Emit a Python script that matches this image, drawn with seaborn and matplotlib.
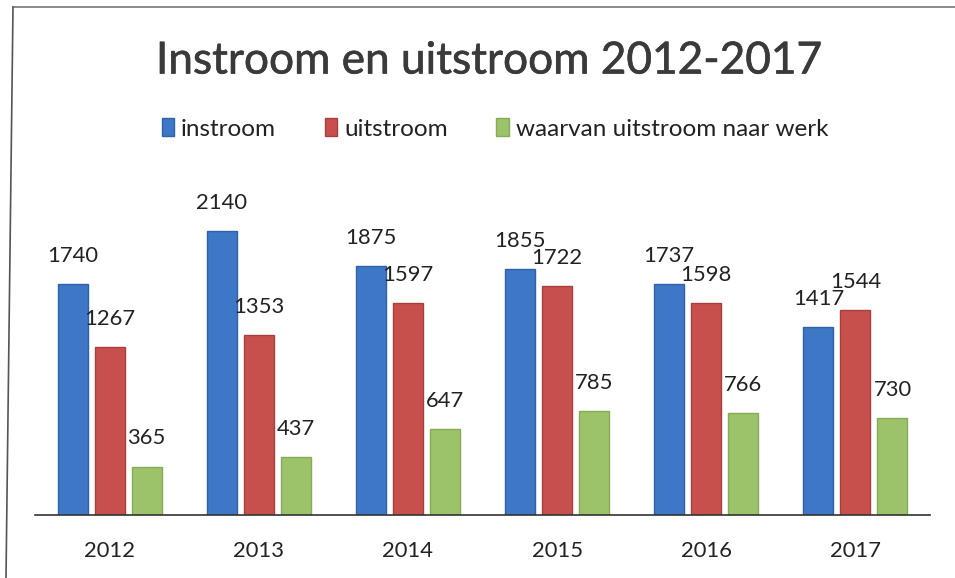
import matplotlib
matplotlib.use("Agg")
import matplotlib.pyplot as plt
import matplotlib.patheffects as pe
import seaborn as sns
import pandas as pd
from matplotlib.lines import Line2D

years = ["2012", "2013", "2014", "2015", "2016", "2017"]
series = ["instroom", "uitstroom", "waarvan uitstroom naar werk"]
instroom = [1740, 2140, 1875, 1855, 1737, 1417]
uitstroom = [1267, 1353, 1597, 1722, 1598, 1544]
naar_werk = [365, 437, 647, 785, 766, 730]
colors = ["#3d77c6", "#c8504c", "#9cc26a"]
edges = ["#2f62a8", "#a83f3c", "#85ab55"]

df = pd.DataFrame({
    "jaar": years * 3,
    "reeks": [series[0]] * 6 + [series[1]] * 6 + [series[2]] * 6,
    "waarde": instroom + uitstroom + naar_werk,
})

sns.set_theme(style="white")
plt.rcParams["font.family"] = ["Lato", "DejaVu Sans"]

fig = plt.figure(figsize=(9.55, 5.78), dpi=100)
ax = fig.add_axes([35 / 955, 1 - 515 / 578, (930 - 35) / 955, (515 - 183) / 578])

sns.barplot(data=df, x="jaar", y="waarde", hue="reeks", order=years,
            hue_order=series, palette=colors, width=0.745, gap=0.19,
            ax=ax, legend=False, saturation=1)

for i, cont in enumerate(ax.containers):
    for bar in cont:
        bar.set_edgecolor(edges[i])
        bar.set_linewidth(1.0)
    ax.bar_label(cont, labels=[str(int(v)) for v in cont.datavalues],
                 padding=13, fontsize=15.8, color="#222222")

ax.set_xlim(-0.5, 5.5)
ax.set_ylim(0, 2500)
ax.set_yticks([])
ax.set_xlabel("")
ax.set_ylabel("")
for s in ["left", "right", "top"]:
    ax.spines[s].set_visible(False)
ax.spines["bottom"].set_color("#333333")
ax.spines["bottom"].set_linewidth(1.2)
ax.tick_params(axis="x", length=0, pad=19, labelsize=15.8, labelcolor="#222222")

fig.text(489 / 955, 1 - 61 / 578, "Instroom en uitstroom 2012-2017",
         ha="center", va="center", fontsize=31.8, color="#3a3a3a",
         path_effects=[pe.withStroke(linewidth=0.45, foreground="#3a3a3a")])

handles = [plt.Rectangle((0, 0), 1, 1, facecolor=c, edgecolor=e) for c, e in zip(colors, edges)]
fig.legend(handles, series, loc="center", bbox_to_anchor=(495 / 955, 1 - 129 / 578),
           ncol=3, frameon=False, fontsize=17.5, handlelength=0.5, handleheight=0.75,
           handletextpad=0.3, columnspacing=2.0, labelcolor="#222222")

# scanned chart border
fig.add_artist(Line2D([13 / 955, 1.0], [1 - 7 / 578, 1 - 7 / 578], transform=fig.transFigure,
                      color="#777777", lw=1.2))
fig.add_artist(Line2D([13 / 955, 6 / 955], [1 - 7 / 578, 0], transform=fig.transFigure,
                      color="#555555", lw=1.2))

fig.savefig("out.png", dpi=100, facecolor="white")
